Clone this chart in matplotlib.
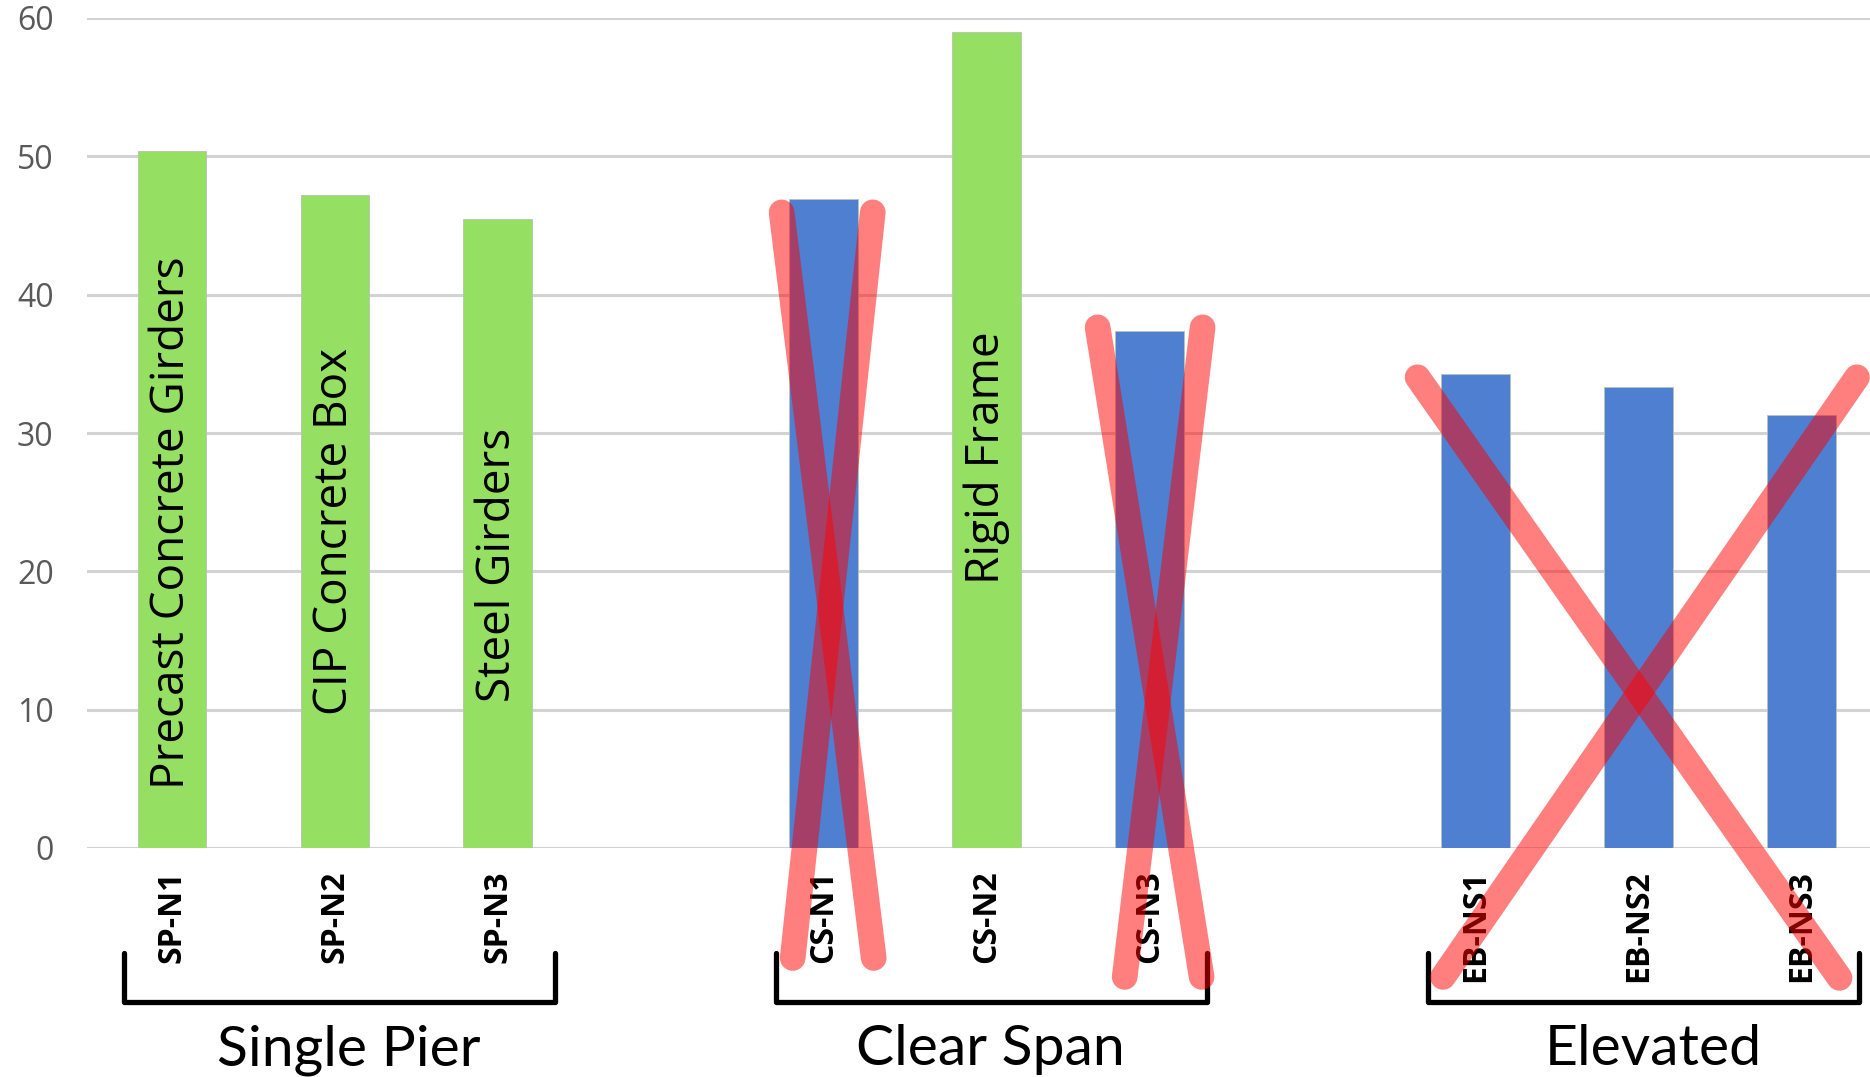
import matplotlib
matplotlib.use("Agg")
import matplotlib.pyplot as plt
from matplotlib.lines import Line2D

# ---- data -----------------------------------------------------------------
groups = ["Single Pier", "Clear Span", "Elevated"]
categories = ["SP-N1", "SP-N2", "SP-N3",
              "CS-N1", "CS-N2", "CS-N3",
              "EB-NS1", "EB-NS2", "EB-NS3"]
group_of = [0, 0, 0, 1, 1, 1, 2, 2, 2]
values = [50.4, 47.2, 45.5, 46.9, 59.0, 37.4, 34.3, 33.3, 31.3]
selected = [True, True, True, False, True, False, False, False, False]

# vertical notes written inside the selected bars
notes = {"SP-N1": "Precast Concrete Girders",
         "SP-N2": "CIP Concrete Box",
         "SP-N3": "Steel Girders",
         "CS-N2": "Rigid Frame"}
note_centre = {"SP-N1": 23.5, "SP-N2": 22.9, "SP-N3": 20.45, "CS-N2": 28.2}

# ---- styling --------------------------------------------------------------
GREEN = "#95DF63"
BLUE = "#4E7FD0"
GRID = "#D3D3D3"
TICK_GREY = "#595959"

fig = plt.figure(figsize=(18.7, 10.77), dpi=100)
W, H = 1870, 1077
ax = fig.add_axes([87 / W, (H - 848) / H, 1 - 87 / W, (848 - 18) / H])

# one empty slot between groups
slot = [4 * g + i % 3 for i, g in enumerate(group_of)]

colors = [GREEN if s else BLUE for s in selected]
ax.bar(slot, values, width=0.42, color=colors, edgecolor="#B8C4B0",
       linewidth=0.6, zorder=3)

ax.set_xlim(-0.52, 10.42)
ax.set_ylim(0, 60)
ax.set_yticks(range(0, 61, 10))
ax.yaxis.grid(True, color=GRID, linewidth=2.2, zorder=0)
ax.set_axisbelow(True)
for sp in ax.spines.values():
    sp.set_visible(False)
ax.tick_params(axis="y", length=0, pad=24, labelsize=23, labelcolor=TICK_GREY)
for lab in ax.get_yticklabels():
    lab.set_family("Open Sans")

ax.set_xticks(slot)
ax.set_xticklabels(categories, rotation=90, fontsize=23, fontweight="bold",
                   family="Open Sans", va="top", ha="center")
ax.tick_params(axis="x", length=0, pad=16)

# notes inside bars
for i, c in enumerate(categories):
    if c in notes:
        ax.text(slot[i], note_centre[c], notes[c], rotation=90, ha="center",
                va="center", fontsize=33, family="Open Sans", color="black",
                zorder=5)

# group brackets and titles below the category labels
title_x = [1.085, 5.02, 9.09]
for g, name in enumerate(groups):
    x0 = 4 * g - 0.29
    x1 = 4 * g + 2.35
    ax.add_line(Line2D([x0, x0, x1, x1], [-7.6, -11.1, -11.1, -7.6],
                       color="black", linewidth=3.8, solid_joinstyle="round",
                       solid_capstyle="round", clip_on=False, zorder=4))
    ax.text(title_x[g], -15.7, name, ha="center", va="baseline",
            fontsize=41, family="Lato", color="black", clip_on=False)

# strike-through crosses over the rejected options
strikes = [
    ((3.742, 45.95), (4.307, -7.95)),
    ((4.301, 45.95), (3.810, -7.95)),
    ((5.681, 37.64), (6.319, -9.32)),
    ((6.325, 37.64), (5.847, -9.32)),
    ((7.644, 34.03), (10.233, -9.39)),
    ((10.340, 34.03), (7.800, -9.32)),
]
for (xa, ya), (xb, yb) in strikes:
    ax.add_line(Line2D([xa, xb], [ya, yb], color="#FF0000", alpha=0.5,
                       linewidth=18.5, solid_capstyle="round",
                       clip_on=False, zorder=10))

fig.savefig("out.png", dpi=100)
